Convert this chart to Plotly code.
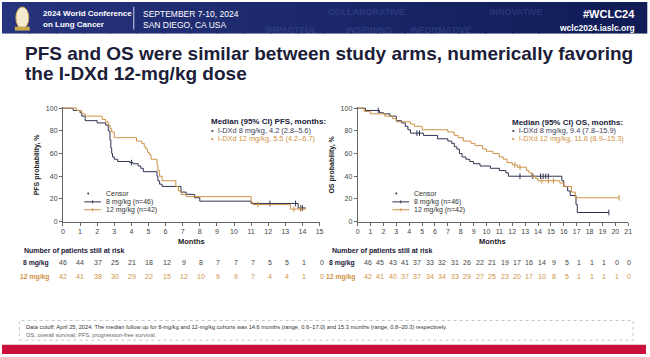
import numpy as np
import plotly.graph_objects as go

W, H = 650, 357
FONT = "Arial, 'Liberation Sans', sans-serif"
NAVY = "#2e3350"
ORANGE = "#cf9145"

# ---------------- data ----------------
pfs8_t = [0, 0.6, 1.0, 1.1, 1.3, 2.0, 2.5, 2.65, 2.75, 2.8, 2.85, 2.9, 3.0, 3.2, 3.9, 4.1, 4.4, 4.55, 4.7,
          5.5, 5.55, 5.65, 5.8, 6.9, 7.2, 7.7, 8.0, 11.0, 13.75, 14.2]
pfs8_s = [100, 98, 96, 93, 89, 87, 85, 80, 72, 65, 60, 57, 55, 53, 52, 51, 49, 47, 44,
          40, 36, 33, 31, 26, 24, 21, 18, 16, 12, 12]
pfs12_t = [0, 0.8, 1.1, 1.3, 2.3, 2.5, 2.65, 2.75, 2.85, 3.0, 4.3, 4.6, 4.75, 4.85, 4.95, 5.05, 5.15,
           5.5, 5.55, 5.65, 5.8, 6.6, 6.75, 6.9, 7.2, 11.0, 11.1, 13.3, 14.2]
pfs12_s = [100, 98, 95, 93, 90, 88, 85, 82, 79, 74, 71, 69, 66, 64, 61, 59, 55,
           50, 45, 40, 36, 31, 27, 24, 22, 17, 15, 11, 11]
pfs8_cens = [4.0, 12.1, 13.6, 13.9, 14.0]
pfs12_cens = [11.4, 13.5, 13.9]

os8_t = [0, 0.6, 1.7, 2.0, 2.5, 3.0, 3.4, 3.7, 3.9, 4.1, 5.1, 6.2, 7.0, 7.3, 7.5, 7.7, 7.9, 8.1, 8.4,
         8.7, 9.0, 9.5, 10.3, 11.0, 11.5, 11.7, 15.85, 16.0, 16.3, 16.5, 16.95, 17.05, 19.5]
os8_s = [100, 98, 96, 95, 93, 89, 87, 84, 81, 78, 76, 73, 71, 69, 66, 64, 60, 57, 55,
         53, 51, 49, 47, 45, 43, 40, 36, 31, 27, 23, 15, 8, 8]
os12_t = [0, 0.5, 1.0, 2.1, 2.7, 3.0, 4.1, 4.4, 5.0, 7.0, 7.5, 7.8, 8.2, 8.8, 9.1, 9.7, 10.0, 10.5,
          11.0, 11.3, 11.6, 12.0, 12.4, 13.1, 13.3, 13.5, 13.8, 14.0, 15.7, 16.0, 16.6, 16.9, 20.3]
os12_s = [100, 97, 95, 93, 91, 88, 86, 84, 81, 79, 76, 74, 71, 69, 67, 64, 62, 60,
          57, 55, 52, 50, 48, 45, 43, 40, 38, 36, 34, 31, 26, 21, 21]
os8_cens = [1.6, 4.6, 4.8, 12.6, 13.6, 14.2, 14.4, 14.6, 14.8, 19.5]
os12_cens = [12.2, 12.6, 14.3, 14.8, 15.2, 20.3]

pfs_months = list(range(0, 16))
os_months = list(range(0, 22))
pfs_risk8 = [46, 44, 37, 25, 21, 18, 12, 9, 8, 7, 7, 7, 5, 5, 1, 0]
pfs_risk12 = [42, 41, 38, 30, 29, 22, 15, 12, 10, 9, 9, 7, 4, 4, 1, 0]
os_risk8 = [46, 45, 43, 41, 37, 33, 32, 31, 26, 22, 21, 19, 17, 16, 14, 9, 5, 1, 1, 1, 0, 0]
os_risk12 = [42, 41, 40, 37, 37, 34, 34, 33, 29, 27, 25, 23, 20, 17, 10, 8, 5, 1, 1, 1, 1, 0]
y_ticks = [0, 20, 40, 60, 80, 100]


def px(x):
    return x / W


def py(y):
    return 1 - y / H


def step_val(ts, ss, t):
    i = np.searchsorted(np.array(ts), t, side="right") - 1
    return ss[max(i, 0)]


fig = go.Figure()


def add_km(ts, ss, cens, color, xa, ya):
    fig.add_trace(go.Scatter(x=ts, y=ss, mode="lines", line=dict(color=color, width=1, shape="hv"),
                             xaxis=xa, yaxis=ya, showlegend=False, hoverinfo="skip"))
    fig.add_trace(go.Scatter(x=cens, y=[step_val(ts, ss, c) for c in cens], mode="markers",
                             marker=dict(symbol="line-ns", size=4, line=dict(color=color, width=1)),
                             xaxis=xa, yaxis=ya, showlegend=False, hoverinfo="skip", cliponaxis=False))


add_km(pfs8_t, pfs8_s, pfs8_cens, NAVY, "x", "y")
add_km(pfs12_t, pfs12_s, pfs12_cens, ORANGE, "x", "y")
add_km(os8_t, os8_s, os8_cens, NAVY, "x2", "y2")
add_km(os12_t, os12_s, os12_cens, ORANGE, "x2", "y2")

y0p, y100p = 222.7, 107.7
ytop = y100p - (y0p - y100p) / 100 * 1.0
ydom = [py(y0p), py(ytop)]
axis_common = dict(showgrid=False, zeroline=False, showline=True, linecolor="#666", linewidth=1,
                   ticks="outside", ticklen=3, tickcolor="#666", tickfont=dict(family=FONT, size=7, color="#444"))
fig.update_layout(
    xaxis=dict(domain=[px(61.5), px(320.5)], range=[0, 15], tickvals=pfs_months, anchor="y", **axis_common),
    yaxis=dict(domain=ydom, range=[0, 101], tickvals=y_ticks, anchor="x", **axis_common),
    xaxis2=dict(domain=[px(359), px(632)], range=[0, 21], tickvals=os_months, anchor="y2", **axis_common),
    yaxis2=dict(domain=ydom, range=[0, 101], tickvals=y_ticks, anchor="x2", **axis_common),
)

shapes = []
ann = []


def text(x, y, s, size=7, color="#333", bold=False, xanchor="left", xref="paper", yref="paper", **kw):
    if bold:
        s = "<b>" + s + "</b>"
    ann.append(dict(x=x, y=y, xref=xref, yref=yref, text=s, showarrow=False, xanchor=xanchor,
                    yanchor="middle", font=dict(family=FONT, size=size, color=color), **kw))


# header band (gradient imitation)
n = 24
c0 = np.array([38, 52, 125])
c1 = np.array([16, 28, 86])
for i in range(n):
    c = c0 + (c1 - c0) * i / (n - 1)
    shapes.append(dict(type="rect", xref="paper", yref="paper", x0=i / n, x1=(i + 1) / n + 0.002,
                       y0=py(32), y1=1, fillcolor="rgb(%d,%d,%d)" % tuple(c.astype(int)), line=dict(width=0),
                       layer="below"))
for s, x, y in [("COLLABORATIVE", 327, 10), ("IMPACTFUL", 264, 28), ("INSPIRING", 345, 28),
                ("INFORMATIVE", 410, 28), ("INNOVATIVE", 490, 10)]:
    text(px(x), py(y), s, size=9, color="rgba(90,110,190,0.3)", bold=True)
# logo
shapes.append(dict(type="circle", xref="paper", yref="paper", x0=px(14), x1=px(27), y0=py(27), y1=py(5),
                   fillcolor="#f3ead0", line=dict(color="#c8a84a", width=1)))
shapes.append(dict(type="rect", xref="paper", yref="paper", x0=px(13), x1=px(28), y0=py(29), y1=py(25),
                   fillcolor="#c8a84a", line=dict(width=0)))
shapes.append(dict(type="line", xref="paper", yref="paper", x0=px(133), x1=px(133), y0=py(28), y1=py(5),
                   line=dict(color="#d0d6ee", width=1)))
text(px(39), py(12), "2024 World Conference", size=8, color="white", bold=True)
text(px(39), py(23), "on Lung Cancer", size=8, color="white", bold=True)
text(px(140), py(12), "SEPTEMBER 7-10, 2024", size=8.5, color="white")
text(px(140), py(23), "SAN DIEGO, CA USA", size=8.5, color="white")
text(px(641), py(12), "#WCLC24", size=11, color="white", bold=True, xanchor="right")
text(px(641), py(26), "wclc2024.iaslc.org", size=8.5, color="white", bold=True, xanchor="right")

# title
TCOL = "#1b2038"
text(px(21), py(52), "PFS and OS were similar between study arms, numerically favoring", size=19, color=TCOL, bold=True)
text(px(21), py(73), "the I-DXd 12-mg/kg dose", size=19, color=TCOL, bold=True)

# axis titles
text(px(35), py(165), "PFS probability, %", size=7, color="#222", bold=True, xanchor="center", textangle=-90)
text(px(333), py(165), "OS probability, %", size=7, color="#222", bold=True, xanchor="center", textangle=-90)
text(px(191), py(243), "Months", size=7.5, color="#222", bold=True, xanchor="center")
text(px(495.5), py(243), "Months", size=7.5, color="#222", bold=True, xanchor="center")

# median annotations
text(px(209), py(121.5), "Median (95% CI) PFS, months:", size=8, color=TCOL, bold=True)
text(px(209), py(130), "•  I-DXd 8 mg/kg, 4.2 (2.8–5.6)", size=7.4, color="#3b4058")
text(px(209), py(138), "•  I-DXd 12 mg/kg, 5.5 (4.2–6.7)", size=7.4, color=ORANGE)
text(px(513), py(122), "Median (95% CI) OS, months:", size=8, color=TCOL, bold=True)
text(px(513), py(130), "•  I-DXd 8 mg/kg, 9.4 (7.8–15.9)", size=7.4, color="#3b4058")
text(px(513), py(138), "•  I-DXd 12 mg/kg, 11.8 (8.9–15.3)", size=7.4, color=ORANGE)

# legends
for lx in (83, 394):
    shapes.append(dict(type="circle", xref="paper", yref="paper", x0=px(lx + 3), x1=px(lx + 5),
                       y0=py(195.3), y1=py(193.3), fillcolor=NAVY, line=dict(width=0)))
    text(px(lx + 20), py(194.3), "Censor", size=7, color="#333")
    for yy, col, lab in ((202.7, NAVY, "8 mg/kg (n=46)"), (210.7, ORANGE, "12 mg/kg (n=42)")):
        shapes.append(dict(type="line", xref="paper", yref="paper", x0=px(lx), x1=px(lx + 17), y0=py(yy), y1=py(yy),
                           line=dict(color=col, width=1)))
        shapes.append(dict(type="line", xref="paper", yref="paper", x0=px(lx + 8.5), x1=px(lx + 8.5),
                           y0=py(yy - 1.5), y1=py(yy + 1.5), line=dict(color=col, width=1)))
        text(px(lx + 20), py(yy), lab, size=7, color="#333")

# at-risk tables (columns laid out as on the slide)
text(px(20), py(252.7), "Number of patients still at risk", size=7, color=TCOL, bold=True)
text(px(331), py(252.7), "Number of patients still at risk", size=7, color=TCOL, bold=True)
for lx, x0c, dx, months, r8, r12 in ((49, 61.7, 17.4, pfs_months, pfs_risk8, pfs_risk12),
                                     (358, 369.0, 12.57, os_months, os_risk8, os_risk12)):
    text(px(lx), py(264.5), "8 mg/kg", size=6.8, color=TCOL, bold=True, xanchor="right")
    text(px(lx), py(278.7), "12 mg/kg", size=6.8, color=ORANGE, bold=True, xanchor="right")
    for m, a, b in zip(months, r8, r12):
        text(px(x0c + dx * m), py(264.5), str(a), size=7, color="#444", xanchor="center")
        text(px(x0c + dx * m), py(278.7), str(b), size=7, color=ORANGE, xanchor="center")

# footnote
shapes.append(dict(type="rect", xref="paper", yref="paper", x0=px(17.5), x1=px(637), y0=py(343), y1=py(323),
                   line=dict(color="#c8c8c8", width=1, dash="dot"), fillcolor="rgba(0,0,0,0)"))
text(px(22.5), py(330), "Data cutoff: April 25, 2024. The median follow up for 8-mg/kg and 12-mg/kg cohorts was 14.6 months "
     "(range, 0.6–17.0) and 15.3 months (range, 0.8–20.3) respectively.", size=5.7, color="#333")
text(px(22.5), py(337.5), "OS, overall survival; PFS, progression-free survival.", size=5.7, color="#666")
shapes.append(dict(type="rect", xref="paper", yref="paper", x0=0, x1=1, y0=0, y1=py(347.5),
                   fillcolor="#c8103a", line=dict(width=0)))

fig.update_layout(width=W, height=H, margin=dict(l=0, r=0, t=0, b=0), paper_bgcolor="white",
                  plot_bgcolor="white", showlegend=False, shapes=shapes, annotations=ann,
                  font=dict(family=FONT))
fig.write_html("out.html", config={"displayModeBar": False},
               post_script="document.body.style.margin='0';document.body.style.overflow='hidden';")
